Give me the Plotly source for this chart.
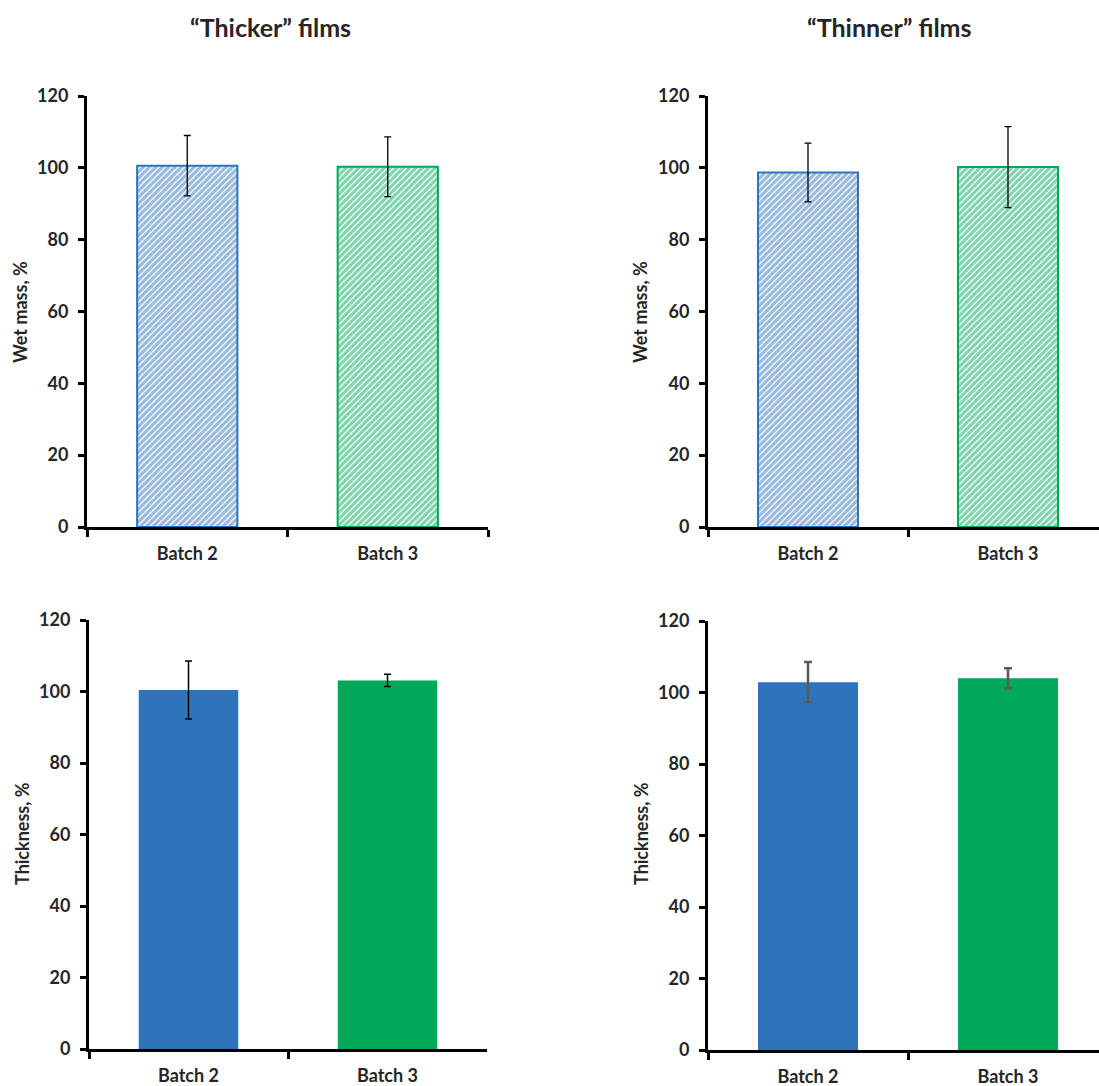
import plotly.graph_objects as go

categories = ["Batch 2", "Batch 3"]
wet_thicker = [100.6, 100.3]
wet_thicker_err = [8.4, 8.3]
wet_thinner = [98.7, 100.2]
wet_thinner_err = [8.2, 11.3]
thick_thicker = [100.4, 103.1]
thick_thicker_err = [8.1, 1.7]
thick_thinner = [102.9, 104.0]
thick_thinner_err = [5.6, 2.8]
titles = ["\u201cThicker\u201d films", "\u201cThinner\u201d films"]
ytitles = ["Wet mass, %", "Thickness, %"]
yticks = [0, 20, 40, 60, 80, 100, 120]

W, H = 1099, 1086
BLUE = "#2E74BA"
GREEN = "#00A85A"
FONT = "Lato"
TXT = "#262626"

fig = go.Figure()

def px_x(a, b):
    return [a / W, min(b / W, 1.0)]

def px_y(top, bottom):
    return [(H - bottom) / H, (H - top) / H]

panels = [
    (wet_thicker, wet_thicker_err, True, "x", "y", px_x(87, 488), px_y(96, 527), [-0.5, 1.5], "black", 1.3, 3.5),
    (wet_thinner, wet_thinner_err, True, "x2", "y2", px_x(708, 1099), px_y(96, 527), [-0.5, 1.455], "black", 1.3, 3.5),
    (thick_thicker, thick_thicker_err, False, "x3", "y3", px_x(89, 487), px_y(620, 1049), [-0.5, 1.5], "black", 1.5, 3.5),
    (thick_thinner, thick_thinner_err, False, "x4", "y4", px_x(708, 1099), px_y(621, 1050), [-0.5, 1.455], "#595959", 2.5, 4),
]

for vals, errs, hatched, xa, ya, xd, yd, xr, ec, et, ew in panels:
    colors = [BLUE, GREEN]
    if hatched:
        marker = dict(
            color="white",
            line=dict(color=colors, width=2),
            pattern=dict(shape="/", fgcolor=colors, bgcolor="white", size=4.5, solidity=0.7),
        )
    else:
        marker = dict(color=colors, line=dict(width=0))
    fig.add_trace(go.Bar(
        x=categories, y=vals, xaxis=xa, yaxis=ya, width=0.5,
        marker=marker, showlegend=False,
        error_y=dict(type="data", array=errs, visible=True, color=ec, thickness=et, width=ew),
    ))
    xk = "xaxis" + xa[1:]
    yk = "yaxis" + ya[1:]
    fig.layout[xk] = dict(
        domain=xd, range=xr, type="category", anchor=ya, automargin=False,
        showline=True, linecolor="black", linewidth=3,
        ticks="outside", tickson="boundaries", ticklen=7, tickwidth=3, tickcolor="black",
        ticklabelstandoff=8,
        showgrid=False, zeroline=False,
        tickfont=dict(family=FONT, size=18, color=TXT, weight="bold"),
    )
    fig.layout[yk] = dict(
        domain=yd, range=[0, 120], anchor=xa, automargin=False,
        tickvals=yticks,
        showline=True, linecolor="black", linewidth=3,
        ticks="outside", ticklen=6, tickwidth=3, tickcolor="black",
        ticklabelstandoff=6,
        showgrid=False, zeroline=False,
        tickfont=dict(family=FONT, size=18, color=TXT, weight="bold"),
    )

def ann(text, x, y, size, angle=0):
    return dict(text=text, x=x / W, y=1 - y / H, xref="paper", yref="paper", showarrow=False,
                textangle=angle, font=dict(family=FONT, size=size, color=TXT, weight="bold"),
                xanchor="center", yanchor="middle")

annotations = [
    ann(titles[0], 270, 27, 25),
    ann(titles[1], 889, 27, 25),
    ann(ytitles[0], 20, 312, 18, -90),
    ann(ytitles[0], 640, 312, 18, -90),
    ann(ytitles[1], 22, 834, 18, -90),
    ann(ytitles[1], 641, 834, 18, -90),
]

fig.update_layout(
    width=W, height=H,
    margin=dict(l=0, r=0, t=0, b=0, pad=0),
    paper_bgcolor="white", plot_bgcolor="white",
    annotations=annotations,
    showlegend=False,
)

fig.write_html("out.html")
